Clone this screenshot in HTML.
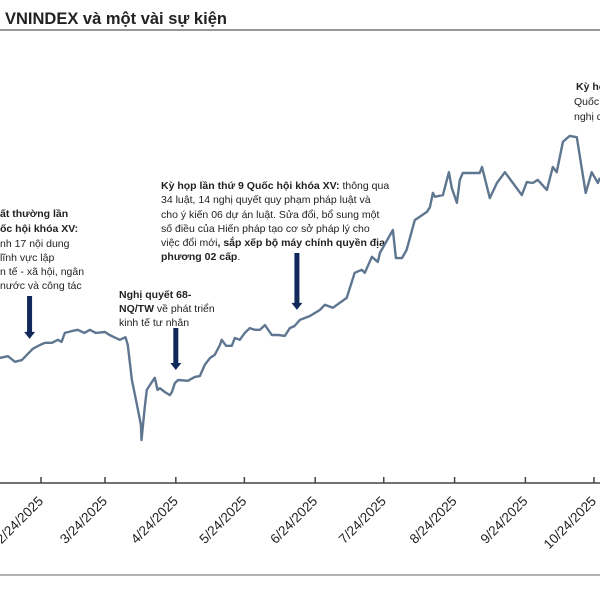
<!DOCTYPE html>
<html><head><meta charset="utf-8"><style>
body{margin:0;background:#fff;width:600px;height:600px;overflow:hidden;font-family:"Liberation Sans","DejaVu Sans",sans-serif}
</style></head><body>
<svg id="c" width="600" height="600" xmlns="http://www.w3.org/2000/svg" style="font-family:'Liberation Sans','DejaVu Sans',sans-serif">
<text x="5" y="24" font-size="16.5" font-weight="bold" fill="#222">VNINDEX và một vài sự kiện</text>
<line x1="0" y1="30" x2="600" y2="30" stroke="#777" stroke-width="1.5"/>
<line x1="0" y1="575" x2="600" y2="575" stroke="#999" stroke-width="1.5"/>
<g font-size="10.5" fill="#222">
<text x="0" y="217" font-weight="bold">ất thường lần</text>
<text x="0" y="232" font-weight="bold">ốc hội khóa XV:</text>
<text x="0" y="247">nh 17 nội dung</text>
<text x="0" y="261"> lĩnh vực lập</text>
<text x="0" y="275">n tế - xã hội, ngân</text>
<text x="0" y="289">nước và công tác</text>
</g>
<g font-size="10.5" fill="#222">
<text x="119" y="298" font-weight="bold">Nghị quyết 68-</text>
<text x="119" y="312"><tspan font-weight="bold">NQ/TW</tspan> về phát triển</text>
<text x="119" y="326">kinh tế tư nhân</text>
</g>
<g font-size="10.5" fill="#222">
<text x="161" y="189"><tspan font-weight="bold">Kỳ họp lần thứ 9 Quốc hội khóa XV:</tspan> thông qua</text>
<text x="161" y="203">34 luật, 14 nghị quyết quy phạm pháp luật và</text>
<text x="161" y="218">cho ý kiến 06 dự án luật. Sửa đổi, bổ sung một</text>
<text x="161" y="232">số điều của Hiến pháp tạo cơ sở pháp lý cho</text>
<text x="161" y="246">việc đổi mới<tspan font-weight="bold">, sắp xếp bộ máy chính quyền địa</tspan></text>
<text x="161" y="260"><tspan font-weight="bold">phương 02 cấp</tspan>.</text>
</g>
<g font-size="10.5" fill="#222">
<text x="576" y="90" font-weight="bold">Kỳ họp</text>
<text x="574" y="105">Quốc hội</text>
<text x="574" y="120">nghị quyết</text>
</g>
<g id="arrows"></g>
<g id="axis"></g>
<path id="line" fill="none" stroke="#5f7691" stroke-width="2.4" stroke-linejoin="round"/>
</svg>
<script>
const days=[13,16.5,19.6,22.6,24.8,27.4,30.5,32.7,35.8,38.4,40,41.4,44.5,47,50,52.4,55,59,61,63,65.5,68,69,70.8,73,74.7,75,76.5,77.3,79.5,80.8,82,83,85.2,87.4,88.3,89.6,91,95.3,98.3,100.5,102.7,105,107,109.3,110.1,112,114.5,115.8,118,120.2,122.4,124.6,126.8,129,132,135,137.7,139.9,142,144.3,148.7,153,155.2,158.7,164.8,168.3,171.4,172.7,175.8,178.4,179.3,185,186.3,189,191,194.6,199.9,201.2,202.5,203.4,206.9,209.5,210.8,213,214.3,215.6,223,224,227.4,230.5,234,237.5,241.4,243.6,246.2,248.4,252.4,255,256.7,259.4,262.4,265.5,269.4,272,274.7,275.6];
const values=[1264,1268,1255,1259,1271,1285,1294,1299,1299,1306,1301,1322,1326,1329,1322,1329,1322,1324,1317,1312,1306,1312,1294,1213,1155,1109,1074,1155,1190,1208,1218,1190,1194,1185,1178,1185,1206,1213,1211,1220,1222,1248,1264,1271,1294,1306,1292,1292,1310,1306,1322,1333,1329,1329,1340,1317,1317,1315,1333,1338,1352,1361,1375,1387,1380,1403,1461,1468,1461,1498,1486,1507,1560,1495,1495,1514,1583,1602,1613,1646,1637,1641,1694,1657,1623,1676,1692,1692,1706,1634,1669,1694,1669,1641,1671,1669,1676,1653,1706,1694,1764,1778,1775,1646,1694,1669,1681];
const tickDays=[31,59,90,120,151,181,212,243,273];
const tickLabels=["2/24/2025","3/24/2025","4/24/2025","5/24/2025","6/24/2025","7/24/2025","8/24/2025","9/24/2025","10/24/2025"];
const eventDays=[26,90,143];
const NS='http://www.w3.org/2000/svg';
const xs=d=>41+(d-31)*2.285;
const ys=v=>440-(v-1074)*0.432;
let p='';days.forEach((d,i)=>{p+=(i?'L':'M')+xs(d).toFixed(1)+' '+ys(values[i]).toFixed(1);});
document.getElementById('line').setAttribute('d',p);
const ax=document.getElementById('axis');
const base=document.createElementNS(NS,'line');


base.setAttribute('x1',0);base.setAttribute('x2',600);base.setAttribute('y1',483);base.setAttribute('y2',483);
base.setAttribute('stroke','#444');base.setAttribute('stroke-width','1.5');ax.appendChild(base);
tickDays.forEach((d,i)=>{
 const x=xs(d);
 const t=document.createElementNS(NS,'line');
 
 
 t.setAttribute('x1',x);t.setAttribute('x2',x);t.setAttribute('y1',477);t.setAttribute('y2',483);
 t.setAttribute('stroke','#444');t.setAttribute('stroke-width','1.5');ax.appendChild(t);
 const l=document.createElementNS(NS,'text');
 
 
 l.setAttribute('text-anchor','end');l.setAttribute('font-size','13.5');l.setAttribute('fill','#222');
 l.setAttribute('transform','translate('+(x+3)+',502) rotate(-45)');
 l.textContent=tickLabels[i];ax.appendChild(l);
});
const ar=document.getElementById('arrows');
const arrowTop=[296,328,253];
eventDays.forEach((d,i)=>{
 const x=xs(d);
 const yEnd=ys(values[days.findIndex(v=>v>=d)])-10;
 const g=document.createElementNS(NS,'path');
 
 
 g.setAttribute('d','M'+(x-2.5)+' '+arrowTop[i]+'H'+(x+2.5)+'V'+(yEnd-7)+'H'+(x+5.5)+'L'+x+' '+yEnd+'L'+(x-5.5)+' '+(yEnd-7)+'H'+(x-2.5)+'Z');
 g.setAttribute('fill','#10285a');ar.appendChild(g);
});
</script>
</body></html>
